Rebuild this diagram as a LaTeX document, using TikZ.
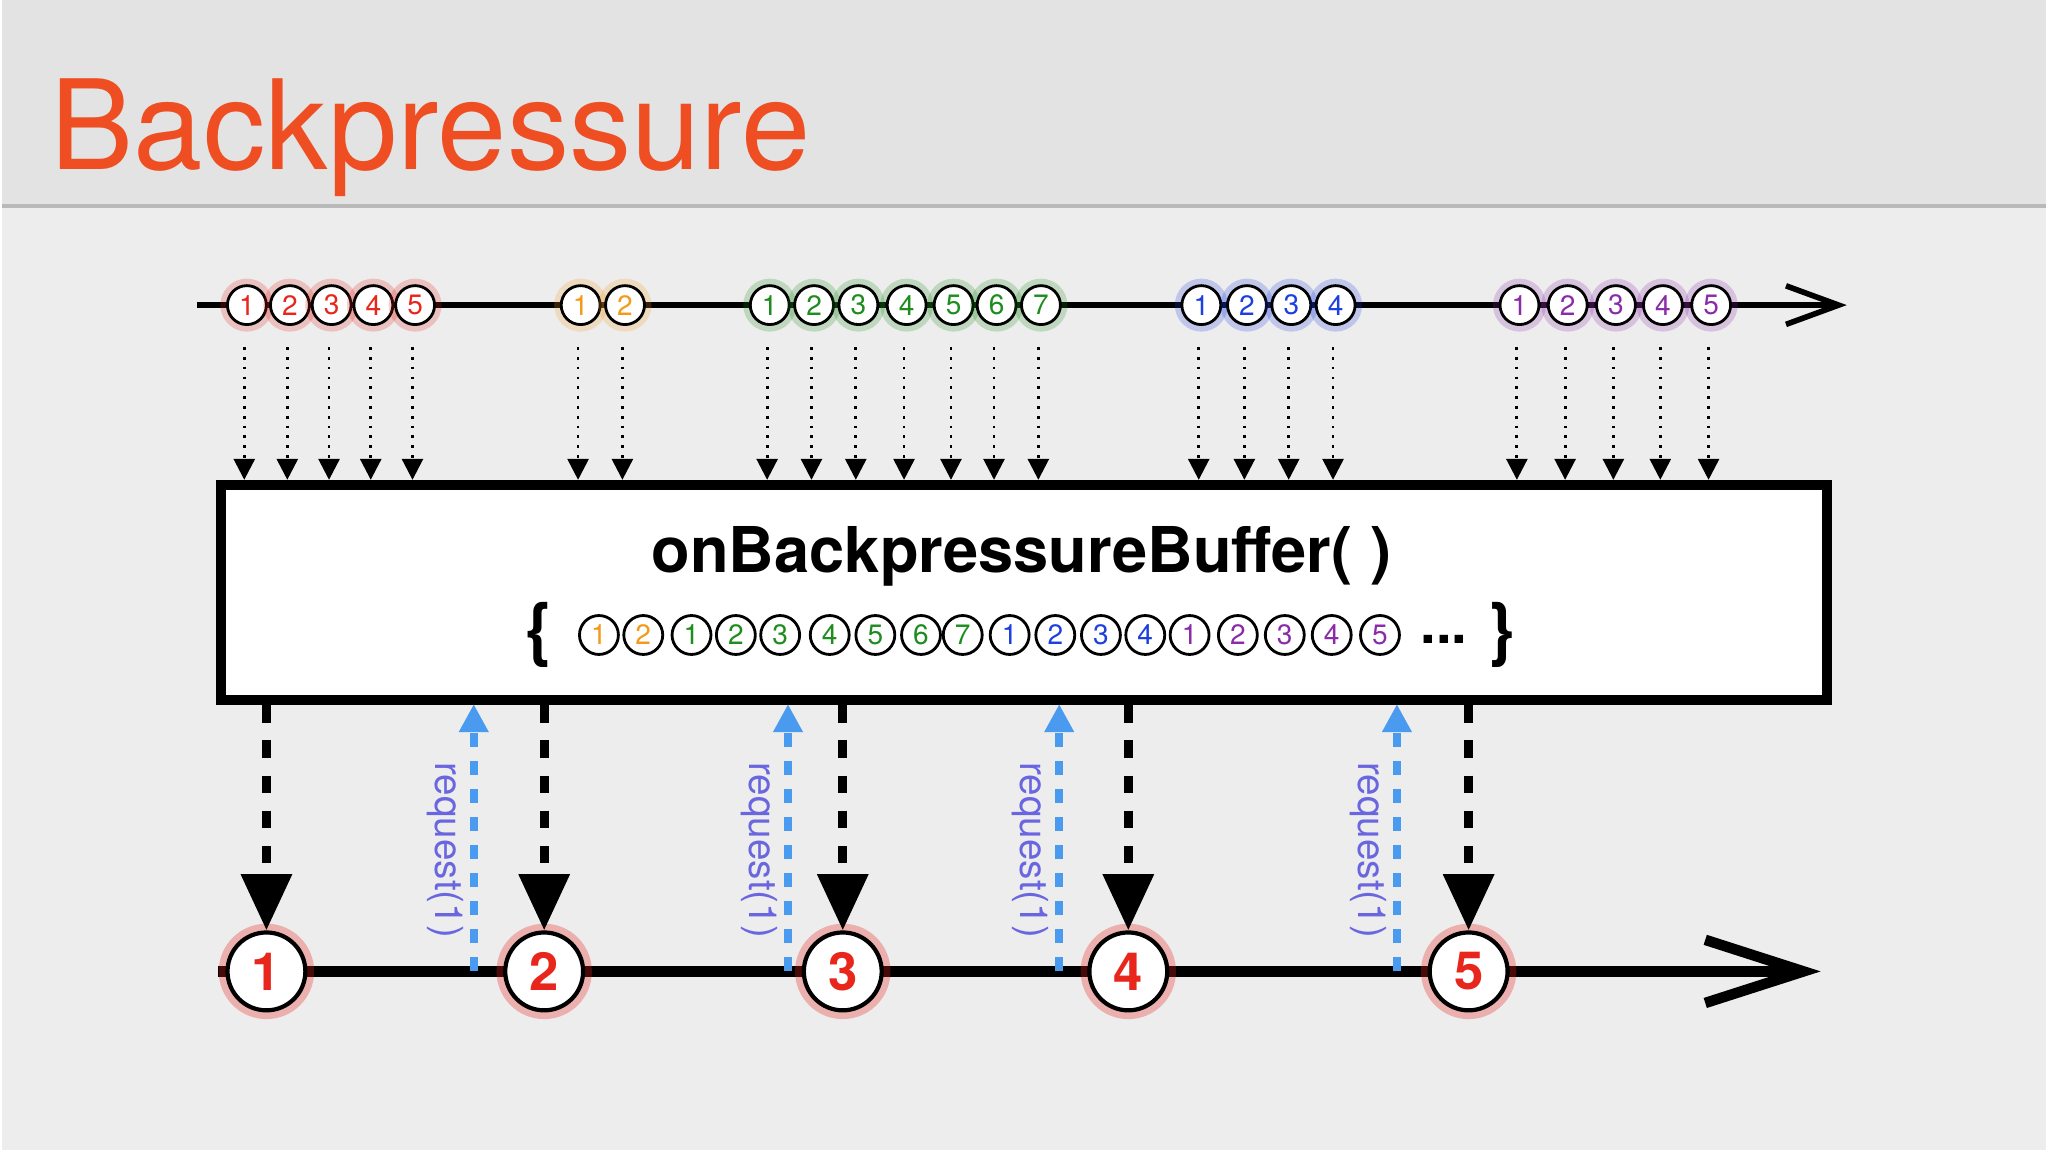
\documentclass[tikz,border=0pt]{standalone}
\usepackage{fontspec}
\setmainfont{TeX Gyre Heros}
\usetikzlibrary{arrows.meta}
\definecolor{ttl}{HTML}{EE4E22}
\definecolor{cr}{HTML}{E8261C}
\definecolor{co}{HTML}{F39A1B}
\definecolor{cg}{HTML}{1E8C1E}
\definecolor{cb}{HTML}{1C3FE0}
\definecolor{cp}{HTML}{8A2BA8}
\definecolor{reqb}{HTML}{4A9BF0}
\definecolor{reqt}{HTML}{6A66E0}
\tikzset{
 mbase/.style={circle,draw=black,line width=0.8pt,fill=white,minimum size=0.39cm,inner sep=0pt,text=#1,font=\fontsize{8}{8}\selectfont},
 mb/.style={mbase=#1,preaction={draw=#1,draw opacity=0.22,line width=4pt}},
 bm/.style={circle,draw=black,line width=1.2pt,fill=white,minimum size=0.78cm,inner sep=0pt,text=cr,font=\fontsize{15}{15}\selectfont\bfseries,
   preaction={draw=cr,draw opacity=0.3,line width=5pt}},
 dn/.style={dotted,line width=0.8pt,-{Triangle[length=6pt,width=6pt]}},
 bdn/.style={dash pattern=on 5pt off 5pt,line width=2.6pt,-{Triangle[length=16pt,width=14pt]}},
 req/.style={reqb,dash pattern=on 4pt off 4pt,line width=2.4pt,-{Triangle[length=8pt,width=8pt]}},
 rql/.style={text=reqt,rotate=-90,font=\fontsize{11}{11}\selectfont},
}
\begin{document}
\begin{tikzpicture}[x=0.013061cm,y=-0.013061cm]
\fill[gray!14] (0,0) rectangle (1568,882);
\fill[gray!22] (0,0) rectangle (1568,158);
\draw[gray!55,line width=1pt] (0,158) -- (1568,158);
\node[anchor=base west,text=ttl,font=\fontsize{35.5}{35.5}\selectfont,inner sep=0pt] (title) at (37,130) {Backpressure};
% top line
\coordinate (t0) at (150,234); \coordinate (t1) at (1415,234);
\draw[line width=1.6pt,-{Straight Barb[length=15pt,width=11pt,line width=1.6pt]}] (t0) -- (t1);
% box
\node[draw=black,line width=2.8pt,fill=white,minimum width=1232*0.013061cm,minimum height=165*0.013061cm,inner sep=0pt,
  preaction={fill=black,opacity=0.25,transform canvas={xshift=1.5pt,yshift=-1.5pt}}] (box) at (784,454.5) {};
\node[font=\fontsize{18}{18}\selectfont\bfseries] (op) at (782,427) {onBackpressureBuffer( )};
\node[font=\fontsize{20}{20}\selectfont\bfseries] (lb) at (412,487) {\{};
\node[font=\fontsize{20}{20}\selectfont\bfseries] (rb) at (1150,487) {\}};
\node[font=\fontsize{16}{16}\selectfont\bfseries] (dots) at (1106,490) {...};
% top marbles and dotted arrows
\foreach \x/\n/\c [count=\k] in {188/1/cr,221/2/cr,253/3/cr,285/4/cr,317/5/cr,444/1/co,478/2/co,
 589/1/cg,623/2/cg,657/3/cg,694/4/cg,730/5/cg,763/6/cg,797/7/cg,920/1/cb,955/2/cb,989/3/cb,1023/4/cb,
 1164/1/cp,1201/2/cp,1238/3/cp,1274/4/cp,1311/5/cp}{
  \node[mb=\c] (m\k) at (\x,234) {\n};
  \coordinate (e\k) at (\x-2,368);
  \draw[dn] ([xshift=-2*0.013061cm,yshift=-6pt]m\k.south) -- (e\k);
}
% buffer marbles
\foreach \x/\n/\c [count=\k] in {458/1/co,492/2/co,529/1/cg,563/2/cg,597/3/cg,635/4/cg,670/5/cg,705/6/cg,737/7/cg,
 773/1/cb,808/2/cb,843/3/cb,877/4/cb,911/1/cp,948/2/cp,984/3/cp,1020/4/cp,1057/5/cp}{
  \node[mbase=\c] (q\k) at (\x,487) {\n};
}
% bottom line
\coordinate (b0) at (166,745); \coordinate (b1) at (1395,745);
\draw[line width=3pt,-{Straight Barb[length=28pt,width=18pt,line width=3pt]}] (b0) -- (b1);
\foreach \x/\n in {203/1,416/2,645/3,864/4,1125/5}{
  \node[bm] (o\n) at (\x,745) {\n};
  \coordinate (s\n) at (\x,541);
  \draw[bdn] (s\n) -- (o\n.north);
}
\foreach \x/\k in {362/1,603/2,811/3,1070/4}{
  \coordinate (ra\k) at (\x,745); \coordinate (rb\k) at (\x,540);
  \draw[req] (ra\k) -- (rb\k);
  \node[rql] (rl\k) at (\x-22,652) {request(1)};
}
\end{tikzpicture}
\end{document}
